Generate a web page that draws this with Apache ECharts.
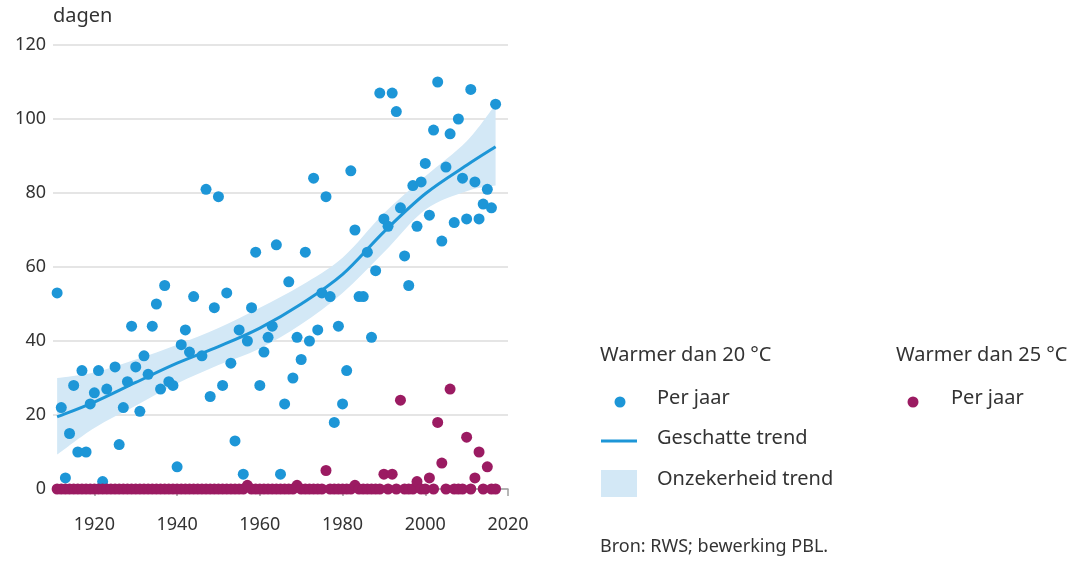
<!DOCTYPE html>
<html>
<head>
<meta charset="utf-8">
<script src="https://cdn.jsdelivr.net/npm/echarts@6/dist/echarts.min.js"></script>
<style>
  html, body { margin: 0; padding: 0; background: #fff; }
  #chart { width: 1073px; height: 564px; }
</style>
</head>
<body>
<div id="chart"></div>
<script>
// Warmer dan 20 °C, per jaar [jaar, dagen]
const perJaar20 = [
  [1911, 53], [1912, 22], [1913, 3], [1914, 15], [1915, 28], [1916, 10], [1917, 32], [1918, 10], [1919, 23], [1920, 26],
  [1921, 32], [1922, 2], [1923, 27], [1925, 33], [1926, 12], [1927, 22], [1928, 29], [1929, 44], [1930, 33],
  [1931, 21], [1932, 36], [1933, 31], [1934, 44], [1935, 50], [1936, 27], [1937, 55], [1938, 29], [1939, 28], [1940, 6],
  [1941, 39], [1942, 43], [1943, 37], [1944, 52], [1946, 36], [1947, 81], [1948, 25], [1949, 49], [1950, 79],
  [1951, 28], [1952, 53], [1953, 34], [1954, 13], [1955, 43], [1956, 4], [1957, 40], [1958, 49], [1959, 64], [1960, 28],
  [1961, 37], [1962, 41], [1963, 44], [1964, 66], [1965, 4], [1966, 23], [1967, 56], [1968, 30], [1969, 41], [1970, 35],
  [1971, 64], [1972, 40], [1973, 84], [1974, 43], [1975, 53], [1976, 79], [1977, 52], [1978, 18], [1979, 44], [1980, 23],
  [1981, 32], [1982, 86], [1983, 70], [1984, 52], [1985, 52], [1986, 64], [1987, 41], [1988, 59], [1989, 107], [1990, 73],
  [1991, 71], [1992, 107], [1993, 102], [1994, 76], [1995, 63], [1996, 55], [1997, 82], [1998, 71], [1999, 83], [2000, 88],
  [2001, 74], [2002, 97], [2003, 110], [2004, 67], [2005, 87], [2006, 96], [2007, 72], [2008, 100], [2009, 84], [2010, 73],
  [2011, 108], [2012, 83], [2013, 73], [2014, 77], [2015, 81], [2016, 76], [2017, 104]
]

// Warmer dan 25 °C, per jaar, 1911 t/m 2017
const eersteJaar25 = 1911
const perJaar25 = [
  0, 0, 0, 0, 0, 0, 0, 0, 0, 0,
  0, 0, 0, 0, 0, 0, 0, 0, 0, 0,
  0, 0, 0, 0, 0, 0, 0, 0, 0, 0,
  0, 0, 0, 0, 0, 0, 0, 0, 0, 0,
  0, 0, 0, 0, 0, 0, 1, 0, 0, 0,
  0, 0, 0, 0, 0, 0, 0, 0, 1, 0,
  0, 0, 0, 0, 0, 5, 0, 0, 0, 0,
  0, 0, 1, 0, 0, 0, 0, 0, 0, 4,
  0, 4, 0, 24, 0, 0, 0, 2, 0, 0,
  3, 0, 18, 7, 0, 27, 0, 0, 0, 14,
  0, 3, 10, 0, 6, 0, 0
]

// geschatte trend en onzekerheid
const trendJaren = [1911, 1920, 1930, 1940, 1950, 1960, 1970, 1980, 1990, 2000, 2010, 2017]
const trendWaarden = [19.5, 23.5, 28.8, 34, 38.5, 43.5, 50, 58, 69.5, 79.8, 87.5, 92.5]
const bandOnder = [9.3, 16.5, 22.5, 28.5, 33.5, 38, 44.5, 53, 64, 75.5, 80.5, 82]
const bandBoven = [30, 31.5, 35, 39, 43.5, 49, 55, 62.5, 74.5, 84.5, 94, 104]

const xTicks = [1920, 1940, 1960, 1980, 2000, 2020]
const yTicks = [0, 20, 40, 60, 80, 100, 120]

const blauw = '#1d96d7'
const paars = '#9b1b62'
const lichtblauw = '#d3e8f6'
const tekst = '#333333'
const font = 'Noto Sans'

const trendData = trendJaren.map((j, i) => [j, trendWaarden[i]])
const bandData = trendJaren.map((j, i) => [j, bandOnder[i], bandBoven[i]])
const data25 = perJaar25.map((v, i) => [eersteJaar25 + i, v])

// vloeiende curve door pixelpunten (Catmull-Rom naar bezier)
function curvePath(pts, start) {
  let d = (start ? 'M' : 'L') + pts[0][0] + ' ' + pts[0][1]
  for (let i = 0; i < pts.length - 1; i++) {
    const p0 = pts[Math.max(i - 1, 0)]
    const p1 = pts[i]
    const p2 = pts[i + 1]
    const p3 = pts[Math.min(i + 2, pts.length - 1)]
    const c1x = p1[0] + (p2[0] - p0[0]) / 6
    const c1y = p1[1] + (p2[1] - p0[1]) / 6
    const c2x = p2[0] - (p3[0] - p1[0]) / 6
    const c2y = p2[1] - (p3[1] - p1[1]) / 6
    d += ' C' + c1x + ' ' + c1y + ' ' + c2x + ' ' + c2y + ' ' + p2[0] + ' ' + p2[1]
  }
  return d
}

// onzekerheidsband als één vlak, getekend via de assen
function renderBand(params, api) {
  if (params.dataIndex !== 0) return
  const boven = bandData.map(d => api.coord([d[0], d[2]]))
  const onder = bandData.map(d => api.coord([d[0], d[1]])).reverse()
  return {
    type: 'path',
    shape: { pathData: curvePath(boven, true) + ' ' + curvePath(onder, false) + ' Z' },
    style: { fill: lichtblauw, stroke: 'none' }
  }
}

// trendlijn met dezelfde curve
function renderTrend(params, api) {
  if (params.dataIndex !== 0) return
  const pts = trendData.map(d => api.coord(d))
  return {
    type: 'path',
    shape: { pathData: curvePath(pts, true) },
    style: { fill: 'none', stroke: blauw, lineWidth: 3 }
  }
}

const option = {
  animation: false,
  grid: { left: 53, top: 45, width: 455, height: 444, containLabel: false },
  xAxis: {
    type: 'value',
    min: 1910,
    max: 2020,
    interval: 20,
    axisLine: { show: true, lineStyle: { color: '#a0a0a0', width: 1.5 } },
    axisTick: { show: true, length: 7, lineStyle: { color: '#a0a0a0', width: 1.5 }, customValues: xTicks },
    minorTick: { show: true, splitNumber: 2, length: 4, lineStyle: { color: '#a0a0a0' } },
    splitLine: { show: false },
    axisLabel: {
      color: tekst, fontSize: 18, fontFamily: font, margin: 27,
      customValues: xTicks,
      formatter: v => String(v)
    }
  },
  yAxis: {
    type: 'value',
    min: 0,
    max: 120,
    interval: 20,
    axisLine: { show: false },
    axisTick: { show: false },
    splitLine: { lineStyle: { color: '#dcdcdc', width: 1.5 } },
    axisLabel: { color: tekst, fontSize: 18, fontFamily: font, margin: 7, customValues: yTicks }
  },
  series: [
    {
      name: 'Onzekerheid trend',
      type: 'custom',
      renderItem: renderBand,
      data: bandData,
      encode: { x: 0, y: [1, 2] },
      silent: true,
      z: 1
    },
    {
      name: 'Geschatte trend',
      type: 'custom',
      renderItem: renderTrend,
      data: trendData,
      encode: { x: 0, y: 1 },
      silent: true,
      z: 2
    },
    {
      name: 'Per jaar 20',
      type: 'scatter',
      data: perJaar20,
      symbolSize: 11,
      itemStyle: { color: blauw, opacity: 1 },
      z: 3
    },
    {
      name: 'Per jaar 25',
      type: 'scatter',
      data: data25,
      symbolSize: 11,
      itemStyle: { color: paars, opacity: 1 },
      z: 4
    }
  ],
  graphic: [
    { type: 'text', left: 53, top: 6, style: { text: 'dagen', fill: tekst, font: '20px "Noto Sans"' } },
    // legenda links
    { type: 'text', left: 600, top: 345, style: { text: 'Warmer dan 20 °C', fill: tekst, font: '20px "Noto Sans"' } },
    { type: 'circle', shape: { cx: 620, cy: 402, r: 5.5 }, style: { fill: blauw } },
    { type: 'text', left: 657, top: 388, style: { text: 'Per jaar', fill: tekst, font: '20px "Noto Sans"' } },
    { type: 'line', shape: { x1: 601, y1: 441, x2: 637, y2: 441 }, style: { stroke: blauw, lineWidth: 3 } },
    { type: 'text', left: 657, top: 428, style: { text: 'Geschatte trend', fill: tekst, font: '20px "Noto Sans"' } },
    { type: 'rect', shape: { x: 601, y: 470, width: 36, height: 27 }, style: { fill: lichtblauw } },
    { type: 'text', left: 657, top: 469, style: { text: 'Onzekerheid trend', fill: tekst, font: '20px "Noto Sans"' } },
    // legenda rechts
    { type: 'text', left: 896, top: 345, style: { text: 'Warmer dan 25 °C', fill: tekst, font: '20px "Noto Sans"' } },
    { type: 'circle', shape: { cx: 913, cy: 402, r: 5.5 }, style: { fill: paars } },
    { type: 'text', left: 951, top: 388, style: { text: 'Per jaar', fill: tekst, font: '20px "Noto Sans"' } },
    // bron
    { type: 'text', left: 600, top: 538, style: { text: 'Bron: RWS; bewerking PBL.', fill: tekst, font: '18px "Noto Sans"' } }
  ]
}

const chart = echarts.init(document.getElementById('chart'))
chart.setOption(option)
window.onresize = function () {
  chart.resize()
}
</script>
</body>
</html>
